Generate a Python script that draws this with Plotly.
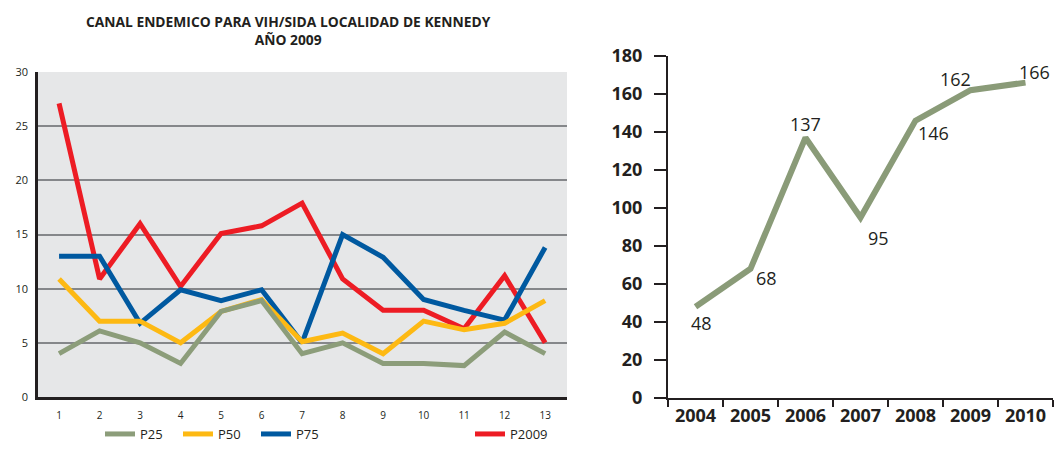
import plotly.graph_objects as go

# left chart: endemic channel by epidemiological period
periods = list(range(1, 14))
p25 = [4, 6.1, 5, 3.1, 7.9, 8.9, 4, 5, 3.1, 3.1, 2.9, 6, 4]
p50 = [10.9, 7, 7, 5, 7.9, 9, 5.1, 5.9, 4, 7, 6.2, 6.8, 8.9]
p75 = [13, 13, 6.8, 9.9, 8.9, 9.9, 5, 15, 12.9, 9, 8, 7.1, 13.8]
p2009 = [27.1, 10.9, 16, 10.2, 15.1, 15.8, 17.9, 10.9, 8, 8, 6.3, 11.2, 5]

# right chart: yearly cases
years = ["2004", "2005", "2006", "2007", "2008", "2009", "2010"]
cases = [48, 68, 137, 95, 146, 162, 166]
label_shift = [(6, -16), (16, -9), (0, 14), (18, -20), (18, -12), (-15, 11), (9, 11)]

# page body has an 8px margin all round; keep the figure inside the window
OFF = 8
W, H = 1062 - 2 * OFF, 452 - 2 * OFF
txt = "#231f20"


def px(x):
    return (x - OFF) / W


def py(y):
    return 1 - (y - OFF) / H


fig = go.Figure()

series = [
    ("P2009", p2009, "#ed1c24", "legend2"),
    ("P75", p75, "#0059a0", "legend"),
    ("P50", p50, "#fdb913", "legend"),
    ("P25", p25, "#8c9d7a", "legend"),
]
for name, vals, color, leg in series:
    fig.add_trace(go.Scatter(
        x=periods, y=vals, mode="lines", name=name,
        line=dict(color=color, width=5), legend=leg,
        xaxis="x", yaxis="y",
    ))

fig.add_trace(go.Scatter(
    x=years, y=cases, mode="lines", showlegend=False,
    line=dict(color="#8a9b78", width=6),
    xaxis="x2", yaxis="y2",
))

annots = []
for i, (v, (dx, dy)) in enumerate(zip(cases, label_shift)):
    annots.append(dict(
        x=i, y=v, xref="x2", yref="y2", text=str(v), showarrow=False,
        xanchor="center", yanchor="middle",
        xshift=dx, yshift=dy, font=dict(size=18, color=txt, family="Open Sans"),
    ))

annots.append(dict(
    x=px(288), y=py(30.5), xref="paper", yref="paper", showarrow=False,
    xanchor="center", yanchor="middle",
    text="CANAL ENDEMICO PARA VIH/SIDA LOCALIDAD DE KENNEDY<br>AÑO 2009",
    font=dict(size=13.8, color=txt, family="Open Sans", weight="bold"),
))

fig.update_layout(
    width=W, height=H,
    margin=dict(l=0, r=0, t=0, b=0, autoexpand=False),
    paper_bgcolor="white",
    plot_bgcolor="white",
    font=dict(family="Open Sans", color=txt),
    annotations=annots,
    shapes=[dict(
        type="rect", xref="x domain", yref="y domain", x0=0, x1=1, y0=0, y1=1,
        fillcolor="#e6e7e8", line=dict(width=0), layer="below",
    )],
    xaxis=dict(
        domain=[px(38), px(567)], range=[0.48, 13.54],
        tickmode="array", tickvals=periods, ticks="",
        showgrid=False, zeroline=False,
        showline=True, linecolor="#231f20", linewidth=2.5,
        tickfont=dict(size=10), ticklabelstandoff=7,
        anchor="y",
    ),
    yaxis=dict(
        domain=[py(397), py(72)], range=[0, 30],
        tickmode="array", tickvals=[0, 5, 10, 15, 20, 25, 30], ticks="",
        showgrid=True, gridcolor="#85878a", gridwidth=1.6,
        zeroline=False, showline=True, linecolor="#231f20", linewidth=2.5,
        tickfont=dict(size=11), ticklabelstandoff=5,
        anchor="x",
    ),
    xaxis2=dict(
        domain=[px(668), px(1053)], range=[-0.5, 6.5],
        type="category", tickson="boundaries", ticks="outside", ticklen=7,
        tickcolor="#231f20", tickwidth=1.5,
        showgrid=False, zeroline=False,
        showline=True, linecolor="#231f20", linewidth=2,
        tickfont=dict(size=18, weight="bold"),
        anchor="y2",
    ),
    yaxis2=dict(
        domain=[py(398), py(56)], range=[0, 180],
        tickmode="array", tickvals=list(range(0, 181, 20)),
        ticks="outside", ticklen=12, tickcolor="#231f20", tickwidth=1.5,
        showgrid=False, zeroline=False,
        showline=True, linecolor="#231f20", linewidth=2,
        tickfont=dict(size=18, weight="bold"), ticklabelstandoff=8,
        anchor="x2",
    ),
    legend=dict(
        orientation="h", x=px(100), y=py(434), xanchor="left", yanchor="middle",
        traceorder="reversed", font=dict(size=13), entrywidth=33,
        bgcolor="rgba(0,0,0,0)",
    ),
    legend2=dict(
        orientation="h", x=px(470), y=py(434), xanchor="left", yanchor="middle",
        font=dict(size=13), bgcolor="rgba(0,0,0,0)",
    ),
)

fig.write_html("out.html")
